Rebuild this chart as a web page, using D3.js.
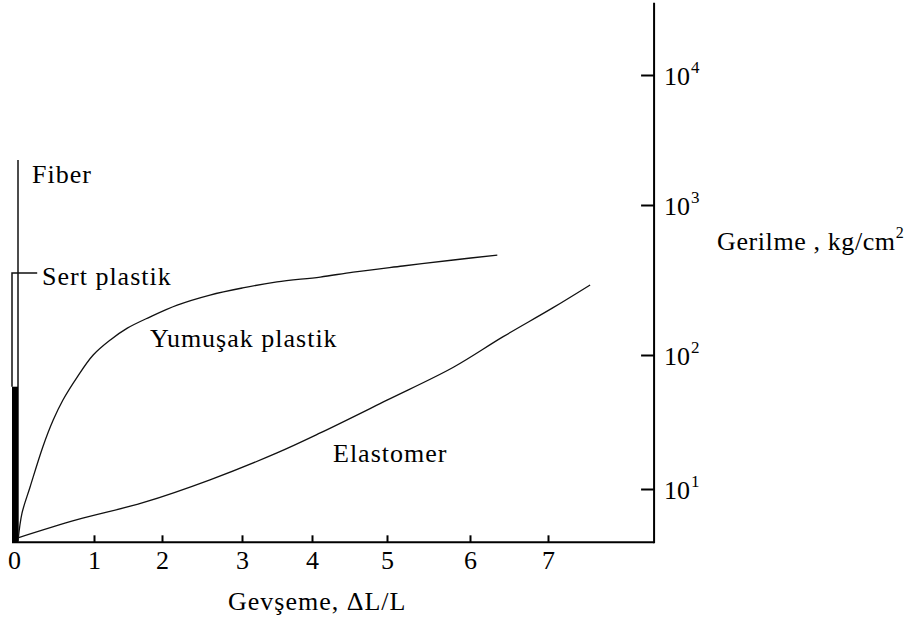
<!DOCTYPE html>
<html>
<head>
<meta charset="utf-8">
<script src="https://cdn.jsdelivr.net/npm/d3@7"></script>
</head>
<body style="margin:0;background:#fff">
<script>
// strain (dL/L) ticks and stress decades
let xTicks = [0, 1, 2, 3, 4, 5, 6, 7]
let yTicks = [10, 100, 1000, 10000]
let yTickExp = ['1', '2', '3', '4']

// soft plastic: [strain, stress kg/cm2]
let yumusak = [
  [0.05, 4.1], [0.1, 6.6], [0.2, 10.3], [0.36, 20.6], [0.49, 32.7],
  [0.61, 46], [0.79, 68.5], [0.99, 100], [1.24, 126], [1.49, 151],
  [1.82, 179], [2.19, 215], [2.6, 251], [3.01, 280], [3.5, 307],
  [4.11, 331], [4.55, 357], [5.19, 392], [5.8, 430], [6.35, 464]
]
// elastomer
let elastomer = [
  [0.04, 4.3], [0.79, 5.9], [1.72, 7.9], [2.6, 11.7], [3.5, 18.6],
  [4.11, 26.2], [5.0, 46], [5.8, 81], [6.42, 132], [7.06, 206], [7.54, 293]
]
// fiber: vertical at ~0 strain
let fiber = [[0.05, 4.0], [0.05, 2220]]
// hard plastic: thick part + thin line up to label leader
let sertBar = { x0: -0.025, x1: 0.05, y0: 4.0, y1: 58 }
let sertLine = [[0.29, 352], [-0.025, 352], [-0.025, 58]]

let width = 909, height = 626
let FONT = 'Liberation Serif'

let svg = d3.select('body').append('svg')
  .attr('width', width).attr('height', height)

// the original axes are not evenly spaced, so piecewise scales
let x = d3.scaleLinear()
  .domain(xTicks)
  .range([14, 94, 162, 242, 312, 387, 470, 548])
let y = d3.scaleLog()
  .domain(yTicks)
  .range([489, 355, 205, 75])

let yBottom = 4.0, yTop = 36000, xRight = 8.36, xLeft = -0.025

// axes lines
svg.append('line')
  .attr('x1', x(xLeft)).attr('x2', x(xRight))
  .attr('y1', y(yBottom)).attr('y2', y(yBottom))
  .attr('stroke', '#000').attr('stroke-width', 2)
svg.append('line')
  .attr('x1', x(xRight)).attr('x2', x(xRight))
  .attr('y1', y(yTop)).attr('y2', y(yBottom) + 1)
  .attr('stroke', '#000').attr('stroke-width', 2)

// x axis ticks (pointing up)
let gx = svg.append('g')
  .attr('transform', `translate(0,${y(yBottom)})`)
  .call(d3.axisBottom(x).tickValues(xTicks).tickSizeInner(-7).tickSizeOuter(0).tickPadding(8)
    .tickFormat(d3.format('d')))
gx.attr('font-family', FONT).attr('font-size', 26)
gx.select('.domain').remove()
gx.selectAll('.tick line').attr('stroke', '#000').attr('stroke-width', 2)
gx.selectAll('.tick text')
  .attr('font-family', FONT).attr('font-size', 26)
  .attr('fill', '#000')
  .attr('dy', '0.72em')

// right axis ticks (pointing left, into the plot)
let gy = svg.append('g')
  .attr('transform', `translate(${x(xRight)},0)`)
  .call(d3.axisLeft(y).tickValues(yTicks).tickSize(13).tickFormat(''))
gy.select('.domain').remove()
gy.selectAll('.tick line').attr('stroke', '#000').attr('stroke-width', 2)

let ylab = svg.append('g').selectAll('text')
  .data(yTicks).enter()
  .append('text')
  .attr('x', x(xRight) + 10)
  .attr('y', d => y(d) + 10)
  .attr('font-family', FONT).attr('font-size', 26)
ylab.append('tspan').text('10')
ylab.append('tspan')
  .attr('font-size', 17).attr('dy', -12).attr('dx', 1)
  .text((d, i) => yTickExp[i])

// curves
let line = d3.line()
  .x(d => x(d[0])).y(d => y(d[1]))
  .curve(d3.curveCatmullRom.alpha(0.5))

svg.append('path').datum(yumusak)
  .attr('d', line).attr('fill', 'none')
  .attr('stroke', '#111').attr('stroke-width', 1.3)
svg.append('path').datum(elastomer)
  .attr('d', line).attr('fill', 'none')
  .attr('stroke', '#111').attr('stroke-width', 1.3)

let straight = d3.line().x(d => x(d[0])).y(d => y(d[1]))
svg.append('path').datum(fiber)
  .attr('d', straight).attr('fill', 'none')
  .attr('stroke', '#111').attr('stroke-width', 1.5)
svg.append('path').datum(sertLine)
  .attr('d', straight).attr('fill', 'none')
  .attr('stroke', '#111').attr('stroke-width', 1.5)
svg.append('rect')
  .attr('x', x(sertBar.x0)).attr('width', x(sertBar.x1) - x(sertBar.x0))
  .attr('y', y(sertBar.y1)).attr('height', y(sertBar.y0) - y(sertBar.y1))
  .attr('fill', '#000')

// labels
let labels = [
  { t: 'Fiber', x: 32, y: 183 },
  { t: 'Sert plastik', x: 42, y: 285 },
  { t: 'Yumuşak plastik', x: 150, y: 347 },
  { t: 'Elastomer', x: 333, y: 462 },
  { t: 'Gevşeme, ΔL/L', x: 228, y: 610 }
]
svg.append('g').selectAll('text')
  .data(labels).enter()
  .append('text')
  .attr('x', d => d.x).attr('y', d => d.y)
  .attr('font-family', FONT).attr('font-size', 26).attr('letter-spacing', 1)
  .text(d => d.t)

let ytitle = svg.append('text')
  .attr('x', 717).attr('y', 250)
  .attr('font-family', FONT).attr('font-size', 26).attr('letter-spacing', 0.6)
ytitle.append('tspan').text('Gerilme , kg/cm')
ytitle.append('tspan').attr('font-size', 16).attr('dy', -12).text('2')
</script>
</body>
</html>
